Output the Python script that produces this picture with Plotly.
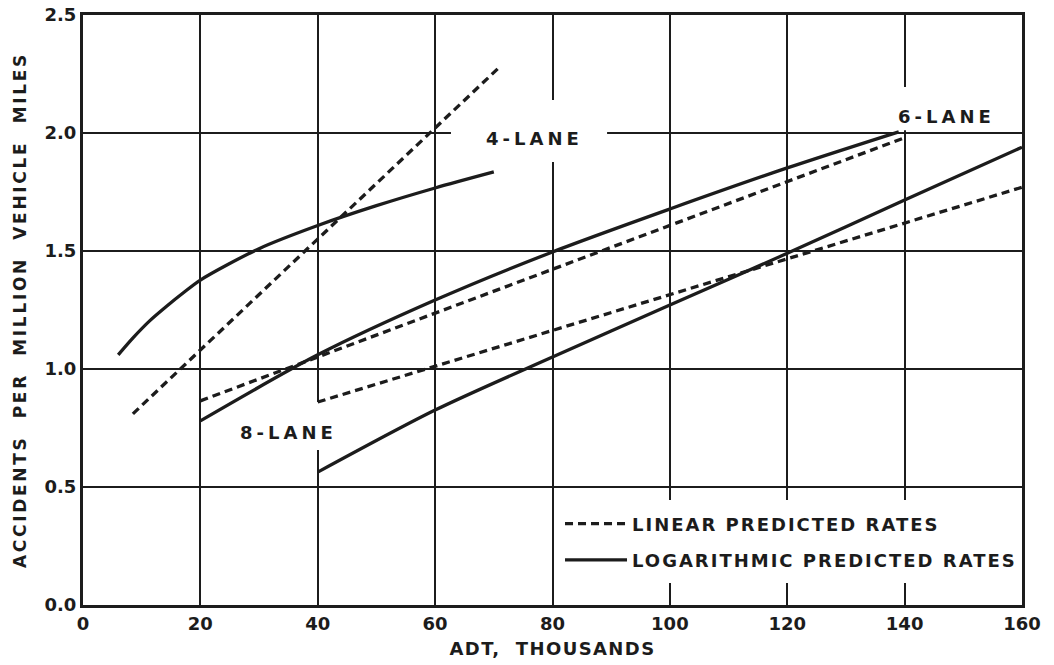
import plotly.graph_objects as go

# ---- data (ADT in thousands, accidents per million vehicle miles) ----
adt_4_log = [6, 8.6, 11.4, 14.3, 17.1, 20, 30, 40, 50, 60, 70]
rate_4_log = [1.06, 1.134, 1.205, 1.267, 1.323, 1.377, 1.51, 1.608, 1.692, 1.767, 1.835]
adt_4_lin = [8.5, 71]
rate_4_lin = [0.81, 2.28]

adt_6_log = [20, 40, 60, 80, 100, 120, 139]
rate_6_log = [0.78, 1.06, 1.292, 1.496, 1.678, 1.852, 2.005]
adt_6_lin = [20, 140]
rate_6_lin = [0.865, 1.98]

adt_8_log = [40, 60, 80, 100, 120, 140, 160]
rate_8_log = [0.563, 0.826, 1.051, 1.271, 1.49, 1.716, 1.94]
adt_8_lin = [40, 160]
rate_8_lin = [0.86, 1.77]

x_ticks = [0, 20, 40, 60, 80, 100, 120, 140, 160]
y_ticks = [0.0, 0.5, 1.0, 1.5, 2.0, 2.5]
y_tick_text = ["0.0", "0.5", "1.0", "1.5", "2.0", "2.5"]

lane_labels = ["4-LANE", "6-LANE", "8-LANE"]
lane_label_x = [77, 147.2, 35]
lane_label_y = [1.975, 2.07, 0.73]

INK = "#1c1c1c"
FONT = "DejaVu Sans"
DASH = "8px,5px"

fig = go.Figure()

def add(x, y, dashed, name, show):
    fig.add_trace(go.Scatter(
        x=x, y=y, mode="lines",
        line=dict(color=INK, width=3.3, dash=DASH if dashed else "solid",
                  shape="spline", smoothing=0.8),
        name=name, legendgroup=name, showlegend=show, hoverinfo="skip",
    ))

LIN = "LINEAR PREDICTED RATES"
LOG = "LOGARITHMIC PREDICTED RATES"
add(adt_4_lin, rate_4_lin, True, LIN, True)
add(adt_4_log, rate_4_log, False, LOG, True)
add(adt_6_lin, rate_6_lin, True, LIN, False)
add(adt_6_log, rate_6_log, False, LOG, False)
add(adt_8_lin, rate_8_lin, True, LIN, False)
add(adt_8_log, rate_8_log, False, LOG, False)

# white patches that break the grid behind labels (between grid and traces)
gaps = [
    (62.7, 89.3, 1.877, 2.14),     # 4-LANE
    (133.0, 158.5, 2.012, 2.195),  # 6-LANE
    (25.0, 50.0, 0.657, 0.86),     # 8-LANE
    (92.0, 158.5, 0.093, 0.445),   # legend
]
for x0, x1, y0, y1 in gaps:
    fig.add_shape(type="rect", xref="x", yref="y", x0=x0, x1=x1, y0=y0, y1=y1,
                  fillcolor="white", line=dict(width=0), layer="between")

for t, lx, ly in zip(lane_labels, lane_label_x, lane_label_y):
    fig.add_annotation(x=lx, y=ly, text=t, showarrow=False,
                       font=dict(family=FONT, size=18, color=INK, weight="bold"))

fig.update_layout(
    width=1054, height=665,
    margin=dict(l=83, r=32, t=15, b=60),
    paper_bgcolor="white", plot_bgcolor="white",
    font=dict(family=FONT, color=INK),
    showlegend=True,
    legend=dict(x=0.508, y=0.107, xanchor="left", yanchor="middle",
                bgcolor="rgba(0,0,0,0)",
                font=dict(family=FONT, size=18, color=INK, weight="bold"),
                traceorder="grouped", tracegroupgap=10, itemwidth=62),
    xaxis=dict(range=[0, 160], tickvals=x_ticks, ticks="", showgrid=True,
               gridcolor=INK, gridwidth=2, zeroline=False, showline=True,
               mirror=True, linecolor=INK, linewidth=3, automargin=False,
               tickfont=dict(family=FONT, size=18, color=INK, weight="bold"),
               title=dict(text="ADT,  THOUSANDS",
                          font=dict(family=FONT, size=18, color=INK, weight="bold"),
                          standoff=10)),
    yaxis=dict(range=[0, 2.5], tickvals=y_ticks, ticktext=y_tick_text, ticks="",
               showgrid=True, gridcolor=INK, gridwidth=2, zeroline=False,
               showline=True, mirror=True, linecolor=INK, linewidth=3,
               automargin=False,
               tickfont=dict(family=FONT, size=18, color=INK, weight="bold"),
               title=dict(text="ACCIDENTS  PER  MILLION  VEHICLE  MILES",
                          font=dict(family=FONT, size=17, color=INK, weight="bold"),
                          standoff=14)),
)

post = """
function spacing(){
  document.querySelectorAll('.ytitle').forEach(function(e){e.style.letterSpacing='2.7px';});
  document.querySelectorAll('.xtitle').forEach(function(e){e.style.letterSpacing='1.4px';});
  document.querySelectorAll('.annotation-text').forEach(function(e){e.style.letterSpacing='4px';});
  document.querySelectorAll('.legendtext').forEach(function(e){e.style.letterSpacing='2px';});
  document.querySelectorAll('.legend [clip-path]').forEach(function(e){e.removeAttribute('clip-path');});
  document.querySelectorAll('.legend').forEach(function(e){e.removeAttribute('clip-path');});
}
spacing();
"""
fig.write_html("out.html", post_script=post)
